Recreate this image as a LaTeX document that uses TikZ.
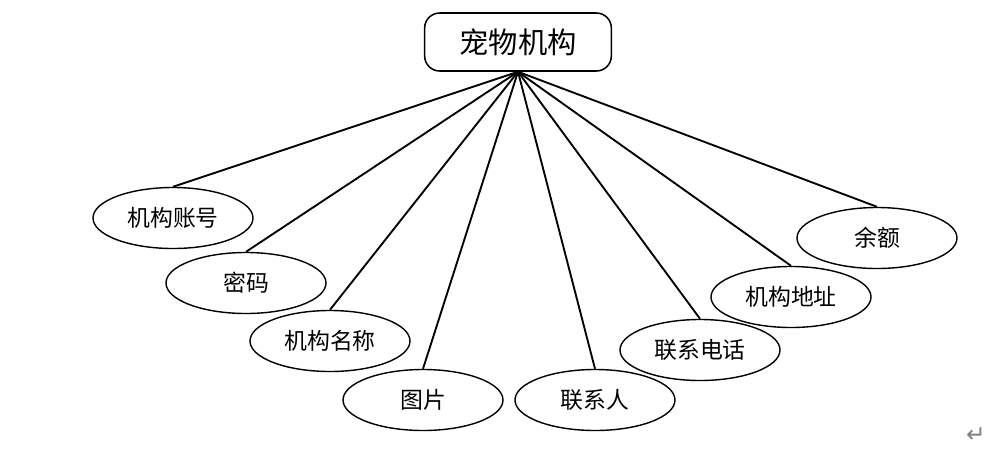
\documentclass[tikz,border=0pt]{standalone}
\usepackage{fontspec}
\newfontfamily\cjk{Noto Sans CJK SC}
\newfontfamily\symfont{DejaVu Sans}
\usetikzlibrary{shapes.geometric}

\begin{document}
\begin{tikzpicture}[
        x=0.03cm, y=-0.03cm,
        entity/.style={rectangle, draw, line width=1.3pt, fill=white, rounded corners=0.45cm, minimum width=5.6cm, minimum height=1.74cm, font=\cjk\fontsize{25}{30}\selectfont},
        attr/.style={ellipse, draw, line width=1.2pt, fill=white, minimum width=4.8cm, minimum height=1.83cm, inner sep=0pt, font=\cjk\fontsize{19.5}{23}\selectfont},
        line/.style={draw, line width=1.6pt}
    ]
        \useasboundingbox (0,0) rectangle (1007,467);

        % Nodes
        \node [entity] (org) at (518,42) {宠物机构};
        \node [attr] (account) at (173,218) {机构账号};
        \node [attr] (pwd) at (246,283) {密码};
        \node [attr] (name) at (330,341) {机构名称};
        \node [attr] (pic) at (423,400) {图片};
        \node [attr] (contact) at (595,400) {联系人};
        \node [attr] (phone) at (700,350) {联系电话};
        \node [attr] (addr) at (791,297) {机构地址};
        \node [attr] (balance) at (877,238) {余额};
        \node [text=gray, font=\symfont\fontsize{20}{22}\selectfont] (ret) at (976,435) {↵};

        % Edges
        \path [line] (org.south) -- (account.north);
        \path [line] (org.south) -- (pwd.north);
        \path [line] (org.south) -- (name.north);
        \path [line] (org.south) -- (pic.north);
        \path [line] (org.south) -- (contact.north);
        \path [line] (org.south) -- (phone.north);
        \path [line] (org.south) -- (addr.north);
        \path [line] (org.south) -- (balance.north);
    \end{tikzpicture}
\end{document}
